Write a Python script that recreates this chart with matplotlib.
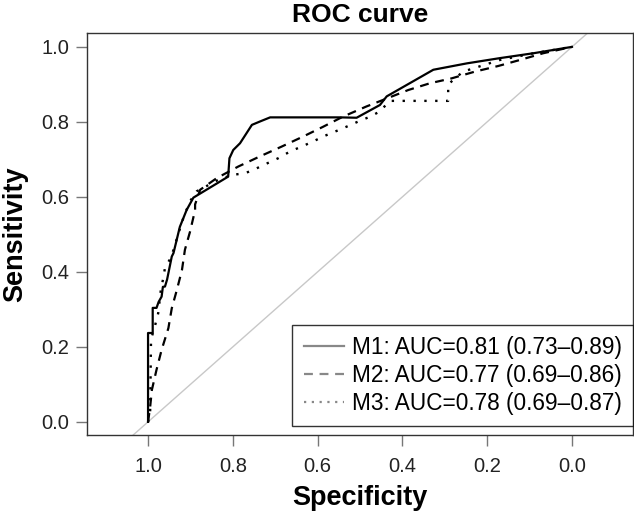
import numpy as np
import matplotlib
matplotlib.use('Agg')
import matplotlib.pyplot as plt
from matplotlib.lines import Line2D

plt.rcParams['font.family'] = ['Liberation Sans', 'DejaVu Sans']

# ROC points: (specificity, sensitivity)
m1_spec = [1.0, 1.0, 0.989, 0.989, 0.980, 0.975, 0.968, 0.965, 0.960, 0.955, 0.944, 0.940,
           0.925, 0.909, 0.893, 0.811, 0.808, 0.799, 0.783, 0.755, 0.736, 0.712, 0.547,
           0.508, 0.453, 0.437, 0.327, 0.248, 0.170, 0.091, 0.0]
m1_sens = [0.0, 0.237, 0.237, 0.304, 0.304, 0.320, 0.334, 0.360, 0.361, 0.380, 0.441, 0.450,
           0.520, 0.565, 0.598, 0.654, 0.703, 0.725, 0.743, 0.792, 0.801, 0.812, 0.812,
           0.811, 0.845, 0.868, 0.939, 0.956, 0.970, 0.983, 1.0]

m2_spec = [1.0, 0.995, 0.991, 0.980, 0.968, 0.952, 0.944, 0.932, 0.920, 0.913, 0.901, 0.889,
           0.889, 0.877, 0.838, 0.787, 0.736, 0.685, 0.634, 0.587, 0.540, 0.485, 0.386,
           0.335, 0.284, 0.229, 0.174, 0.123, 0.068, 0.0]
m2_sens = [0.0, 0.040, 0.085, 0.139, 0.192, 0.250, 0.303, 0.352, 0.405, 0.459, 0.507, 0.565,
           0.580, 0.619, 0.650, 0.681, 0.708, 0.734, 0.761, 0.787, 0.814, 0.841, 0.885,
           0.903, 0.916, 0.934, 0.949, 0.965, 0.983, 1.0]

m3_spec = [1.0, 0.995, 0.993, 0.985, 0.976, 0.970, 0.964, 0.960, 0.945, 0.929, 0.915, 0.900,
           0.885, 0.830, 0.799, 0.771, 0.744, 0.716, 0.693, 0.665, 0.638, 0.610, 0.587,
           0.559, 0.532, 0.504, 0.476, 0.453, 0.430, 0.292, 0.292, 0.257, 0.170, 0.090, 0.0]
m3_sens = [0.0, 0.030, 0.220, 0.250, 0.290, 0.350, 0.384, 0.411, 0.440, 0.500, 0.550, 0.590,
           0.615, 0.648, 0.659, 0.663, 0.676, 0.691, 0.703, 0.721, 0.734, 0.748, 0.761,
           0.774, 0.787, 0.801, 0.814, 0.828, 0.856, 0.856, 0.900, 0.934, 0.965, 0.983, 1.0]

labels = ['M1: AUC=0.81 (0.73\u20130.89)',
          'M2: AUC=0.77 (0.69\u20130.86)',
          'M3: AUC=0.78 (0.69\u20130.87)']
ticks = [1.0, 0.8, 0.6, 0.4, 0.2, 0.0]

fig = plt.figure(figsize=(6.34, 5.16), dpi=100)
ax = fig.add_axes([87 / 634, 1 - 435 / 516, 546 / 634, 402 / 516])

# chance line
ax.plot([1.2, -0.2], [-0.2, 1.2], color='#c8c8c8', lw=1.0, zorder=1)

ax.plot(m1_spec, m1_sens, color='black', lw=1.6, linestyle='-', zorder=3)
ax.plot(m2_spec, m2_sens, color='black', lw=1.6, linestyle=(0, (4, 3)), zorder=3)
ax.plot(m3_spec, m3_sens, color='black', lw=1.7, linestyle=(0, (1, 3.6)), zorder=3)

ax.set_xlim(1.144, -0.144)
ax.set_ylim(-0.035, 1.037)
ax.set_xticks(ticks)
ax.set_yticks(ticks)
ax.set_xticklabels(['%.1f' % t for t in ticks])
ax.set_yticklabels(['%.1f' % t for t in ticks])
ax.tick_params(direction='out', length=8, width=1, color='#777777',
               labelsize=14.5, labelcolor='#222222')
ax.tick_params(axis='x', pad=8)
ax.tick_params(axis='y', pad=5)
for s in ax.spines.values():
    s.set_color('#333333')
    s.set_linewidth(1.0)

ax.set_title('ROC curve', fontsize=19, fontweight='bold', pad=8)
ax.set_xlabel('Specificity', fontsize=19.5, fontweight='bold', labelpad=6)
ax.set_ylabel('Sensitivity', fontsize=19.5, fontweight='bold', labelpad=9)

handles = [Line2D([], [], color='#888888', lw=1.6, linestyle='-'),
           Line2D([], [], color='#888888', lw=1.6, linestyle=(0, (4, 3))),
           Line2D([], [], color='#888888', lw=1.6, linestyle=(0, (1, 2.5)))]
leg = ax.legend(handles, labels, loc='lower right', bbox_to_anchor=(1.0, 0.022),
                fontsize=16.3, frameon=True, fancybox=False, edgecolor='black',
                handlelength=1.77, handletextpad=0.35, labelspacing=0.22,
                borderpad=0.5, borderaxespad=0.0)
leg.get_frame().set_linewidth(1.0)

fig.savefig('out.png', dpi=100)
